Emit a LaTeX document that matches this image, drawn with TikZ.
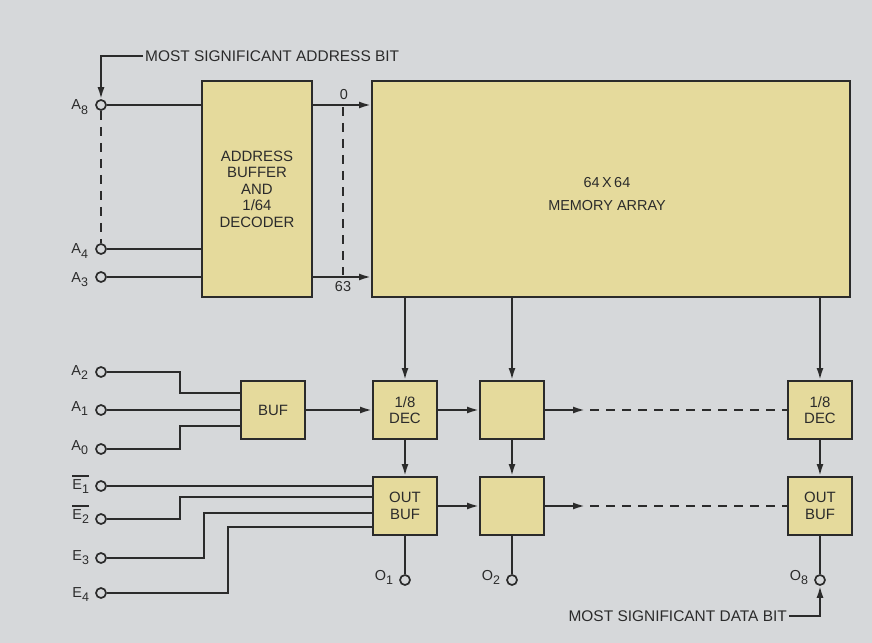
\documentclass[tikz,border=0pt]{standalone}
\usepackage{fontspec}
\setmainfont{Liberation Sans}
\usepackage{tikz}
\usetikzlibrary{arrows.meta,calc,positioning}
\definecolor{paper}{HTML}{D6D8DA}
\definecolor{boxfill}{HTML}{E5DA9C}
\definecolor{ink}{HTML}{2B2B2B}
\newcommand{\barsig}[1]{\vbox{\hrule height 1.6pt\kern 2.5pt\hbox{#1}}}
\newcommand{\pinsub}[1]{\raisebox{-5pt}{\fontsize{12.5}{12.5}\selectfont#1}}

\begin{document}
\begin{tikzpicture}[
        x=1bp,y=-1bp,
        blk/.style={draw=ink,line width=2bp,fill=boxfill,align=center,inner sep=0pt,
                    text=ink,font=\fontsize{15}{16.5}\selectfont},
        sblk/.style={blk,minimum width=64bp,minimum height=58bp},
        pin/.style={circle,draw=ink,line width=1.7bp,fill=paper,minimum size=10bp,inner sep=0pt},
        plab/.style={font=\fontsize{14.5}{14.5}\selectfont,text=ink,inner sep=0pt,anchor=base east},
        txt/.style={font=\fontsize{15.5}{17}\selectfont,text=ink,inner sep=2pt},
        wire/.style={draw=ink,line width=2bp},
        arr/.style={wire,-{Latex[length=12bp,width=7bp]}},
        dsh/.style={wire,dash pattern=on 9bp off 7bp}
      ]
        \fill[paper] (0,0) rectangle (872,643);
        \useasboundingbox (0,0) rectangle (872,643);
        % top blocks
        \node[blk,minimum width=110bp,minimum height=216bp] (dec) at (257,189)
          {ADDRESS\\BUFFER\\AND\\1/64\\DECODER};
        \node[blk,minimum width=478bp,minimum height=216bp] (mem) at (611,189) {};
        \node[font=\fontsize{14.5}{23}\selectfont,text=ink,align=center] (memtxt) at (607,194)
          {64\,X\,64\\MEMORY ARRAY};
        % bottom blocks
        \node[sblk] (buf) at (273,410) {BUF};
        \node[sblk] (d1) at (405,410) {1/8\\DEC};
        \node[sblk] (ob1) at (405,506) {OUT\\BUF};
        \node[sblk] (m1) at (512,410) {};
        \node[sblk] (m2) at (512,506) {};
        \node[sblk] (d8) at (820,410) {1/8\\DEC};
        \node[sblk] (ob8) at (820,506) {OUT\\BUF};
        % input pins
        \node[pin] (pA8) at (101,105) {};
        \node[pin] (pA4) at (101,249) {};
        \node[pin] (pA3) at (101,277) {};
        \node[pin] (pA2) at (101,372) {};
        \node[pin] (pA1) at (101,410) {};
        \node[pin] (pA0) at (101,449) {};
        \node[pin] (pE1) at (101,486) {};
        \node[pin] (pE2) at (101,519) {};
        \node[pin] (pE3) at (101,558) {};
        \node[pin] (pE4) at (101,593) {};
        \node[plab] (lA8) at ([xshift=-7bp,yshift=-5bp]pA8.west) {A\pinsub{8}};
        \node[plab] (lA4) at ([xshift=-7bp,yshift=-5bp]pA4.west) {A\pinsub{4}};
        \node[plab] (lA3) at ([xshift=-7bp,yshift=-5bp]pA3.west) {A\pinsub{3}};
        \node[plab] (lA2) at ([xshift=-7bp,yshift=-3bp]pA2.west) {A\pinsub{2}};
        \node[plab] (lA1) at ([xshift=-7bp,yshift=-1bp]pA1.west) {A\pinsub{1}};
        \node[plab] (lA0) at ([xshift=-7bp,yshift=-1bp]pA0.west) {A\pinsub{0}};
        \node[plab] (lE1) at ([xshift=-6bp,yshift=-3bp]pE1.west) {\barsig{E\pinsub{1}}};
        \node[plab] (lE2) at ([xshift=-6bp,yshift=0bp]pE2.west) {\barsig{E\pinsub{2}}};
        \node[plab] (lE3) at ([xshift=-6bp,yshift=-2bp]pE3.west) {E\pinsub{3}};
        \node[plab] (lE4) at ([xshift=-6bp,yshift=-4bp]pE4.west) {E\pinsub{4}};
        % output pins
        \node[pin] (pO1) at (405,580) {};
        \node[pin] (pO2) at (512,580) {};
        \node[pin] (pO8) at (820,580) {};
        \node[plab] (lO1) at ([xshift=-6bp,yshift=0bp]pO1.west) {O\pinsub{1}};
        \node[plab] (lO2) at ([xshift=-6bp,yshift=0bp]pO2.west) {O\pinsub{2}};
        \node[plab] (lO8) at ([xshift=-6bp,yshift=0bp]pO8.west) {O\pinsub{8}};
        % notes
        \node[txt,anchor=west] (msa) at (143,56) {MOST SIGNIFICANT ADDRESS BIT};
        \node[txt,anchor=east] (msd) at (789,616) {MOST SIGNIFICANT DATA BIT};
        \node[txt,font=\fontsize{14.5}{14}\selectfont] (o0) at (344,95) {0};
        \node[txt,font=\fontsize{14.5}{14}\selectfont] (o63) at (343,287) {63};
        \coordinate (c0) at (343,107);
        \coordinate (c63) at (343,275);
        \draw[arr] (msa.west) -| (pA8.north);
        \draw[arr] (msd.east) -| (pO8.south);
        % address inputs
        \draw[dsh] (pA8.south) -- (pA4.north);
        \draw[wire] (pA8.east) -- (dec.west |- pA8);
        \draw[wire] (pA4.east) -- (dec.west |- pA4);
        \draw[wire] (pA3.east) -- (dec.west |- pA3);
        \draw[arr] (dec.east |- pA8) -- (mem.west |- pA8);
        \draw[arr] (dec.east |- pA3) -- (mem.west |- pA3);
        \draw[dsh] (c0) -- (c63);
        \draw[wire] (pA2.east) -- (180,372) |- ([yshift=17bp]buf.west);
        \draw[wire] (pA1.east) -- (buf.west |- pA1);
        \draw[wire] (pA0.east) -- (180,449) |- ([yshift=-16bp]buf.west);
        % enables
        \draw[wire] (pE1.east) -- (ob1.west |- pE1);
        \draw[wire] (pE2.east) -- (180,519) |- ([yshift=9bp]ob1.west);
        \draw[wire] (pE3.east) -- (204,558) |- ([yshift=-7bp]ob1.west);
        \draw[wire] (pE4.east) -- (228,593) |- ([yshift=-21bp]ob1.west);
        % array to decoders
        \draw[arr] (mem.south -| d1) -- (d1.north);
        \draw[arr] (mem.south -| m1) -- (m1.north);
        \draw[arr] (mem.south -| d8) -- (d8.north);
        \draw[arr] (buf.east |- d1) -- (d1.west);
        \draw[arr] (d1) -- (m1);
        \draw[arr] (ob1) -- (m2);
        \draw[arr] (d1) -- (ob1);
        \draw[arr] (m1) -- (m2);
        \draw[arr] (d8) -- (ob8);
        \draw[arr] (m1.east) -- ++(40,0) coordinate (r1);
        \draw[arr] (m2.east) -- ++(40,0) coordinate (r2);
        \draw[dsh] ([xshift=5bp]r1) -- (d8.west);
        \draw[dsh] ([xshift=5bp]r2) -- (ob8.west);
        % outputs
        \draw[wire] (ob1.south) -- (pO1.north);
        \draw[wire] (m2.south) -- (pO2.north);
        \draw[wire] (ob8.south) -- (pO8.north);
      \end{tikzpicture}
\end{document}
